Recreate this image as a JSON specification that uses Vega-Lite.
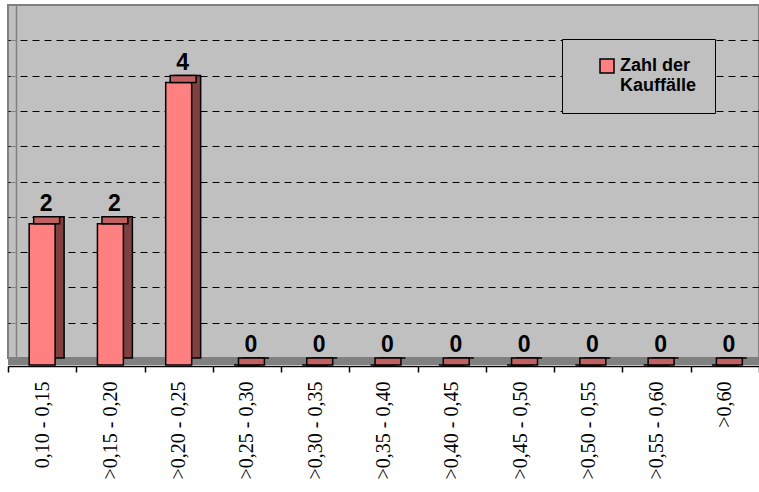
{
  "$schema": "https://vega.github.io/schema/vega-lite/v6.json",
  "width": 751,
  "height": 353,
  "padding": {"left": 8, "top": 5, "right": 0, "bottom": 134},
  "autosize": {"type": "none"},
  "background": "#FFFFFF",
  "config": {
    "view": {"fill": "#C0C0C0", "stroke": "#808080", "strokeWidth": 2},
    "font": "Liberation Sans"
  },
  "data": {
    "values": [
      {"klasse": "0,10 - 0,15", "anzahl": 2, "serie": "Zahl der Kauffälle"},
      {"klasse": ">0,15 - 0,20", "anzahl": 2, "serie": "Zahl der Kauffälle"},
      {"klasse": ">0,20 - 0,25", "anzahl": 4, "serie": "Zahl der Kauffälle"},
      {"klasse": ">0,25 - 0,30", "anzahl": 0, "serie": "Zahl der Kauffälle"},
      {"klasse": ">0,30 - 0,35", "anzahl": 0, "serie": "Zahl der Kauffälle"},
      {"klasse": ">0,35 - 0,40", "anzahl": 0, "serie": "Zahl der Kauffälle"},
      {"klasse": ">0,40 - 0,45", "anzahl": 0, "serie": "Zahl der Kauffälle"},
      {"klasse": ">0,45 - 0,50", "anzahl": 0, "serie": "Zahl der Kauffälle"},
      {"klasse": ">0,50 - 0,55", "anzahl": 0, "serie": "Zahl der Kauffälle"},
      {"klasse": ">0,55 - 0,60", "anzahl": 0, "serie": "Zahl der Kauffälle"},
      {"klasse": ">0,60", "anzahl": 0, "serie": "Zahl der Kauffälle"}
    ]
  },
  "encoding": {
    "x": {
      "field": "klasse",
      "type": "nominal",
      "sort": null,
      "scale": {"paddingInner": 0, "paddingOuter": 0},
      "axis": {
        "title": null,
        "orient": "bottom",
        "offset": 8,
        "labelAngle": -90,
        "labelFont": "Liberation Serif",
        "labelFontSize": 20,
        "labelColor": "#000000",
        "labelPadding": 9,
        "labelLimit": 200,
        "tickBand": "extent",
        "tickSize": 6,
        "tickWidth": 1.5,
        "tickColor": "#000000",
        "domainColor": "#000000",
        "domainWidth": 1.5,
        "grid": false
      }
    }
  },
  "layer": [
    {
      "mark": {"type": "rule", "color": "#808080", "strokeWidth": 7, "yOffset": 3.5},
      "encoding": {"x": null, "y": {"datum": 0}}
    },
    {
      "mark": {
        "type": "bar",
        "width": {"band": 0.38},
        "xOffset": 9,
        "color": "#804040",
        "stroke": "#000000",
        "strokeWidth": 1.5
      },
      "encoding": {
        "y": {
          "field": "anzahl",
          "type": "quantitative",
          "scale": {"domain": [0, 5], "nice": false},
          "axis": {
            "title": null,
            "orient": "left",
            "offset": -8,
            "values": [0.5, 1, 1.5, 2, 2.5, 3, 3.5, 4, 4.5],
            "labels": false,
            "tickSize": 6,
            "tickColor": "#808080",
            "domainColor": "#808080",
            "domainWidth": 1.5,
            "grid": true,
            "gridColor": "#000000",
            "gridDash": [7, 5],
            "gridWidth": 1
          }
        },
        "y2": {"datum": 0}
      }
    },
    {
      "mark": {
        "type": "bar",
        "width": {"band": 0.38},
        "yOffset": 7,
        "y2Offset": 7,
        "stroke": "#000000",
        "strokeWidth": 1.5
      },
      "encoding": {
        "y": {"field": "anzahl", "type": "quantitative"},
        "y2": {"datum": 0},
        "color": {
          "field": "serie",
          "type": "nominal",
          "scale": {"range": ["#FF8080"]},
          "legend": {
            "title": null,
            "orient": "none",
            "legendX": 554,
            "legendY": 34,
            "padding": 18,
            "symbolOffset": 18,
            "symbolType": "square",
            "symbolSize": 196,
            "symbolStrokeColor": "#000000",
            "symbolStrokeWidth": 1.5,
            "symbolFillColor": "#FF8080",
            "labelFont": "Liberation Sans",
            "labelFontSize": 18,
            "labelFontWeight": "bold",
            "labelColor": "#000000",
            "labelOffset": 4,
            "labelLimit": 300,
            "labelExpr": "['Zahl der', 'Kauffälle']",
            "strokeColor": "#000000",
            "fillColor": "#C0C0C0"
          }
        }
      }
    },
    {
      "mark": {
        "type": "bar",
        "width": {"band": 0.38},
        "xOffset": 4.5,
        "y2Offset": 7,
        "color": "#C06060",
        "stroke": "#000000",
        "strokeWidth": 1.5
      },
      "encoding": {
        "y": {"field": "anzahl", "type": "quantitative"},
        "y2": {"field": "anzahl"}
      }
    },
    {
      "mark": {
        "type": "text",
        "font": "Liberation Sans",
        "fontSize": 23,
        "fontWeight": "bold",
        "color": "#000000",
        "baseline": "alphabetic",
        "dx": 4,
        "dy": -6
      },
      "encoding": {
        "y": {"field": "anzahl", "type": "quantitative"},
        "text": {"field": "anzahl", "type": "quantitative"}
      }
    }
  ]
}
